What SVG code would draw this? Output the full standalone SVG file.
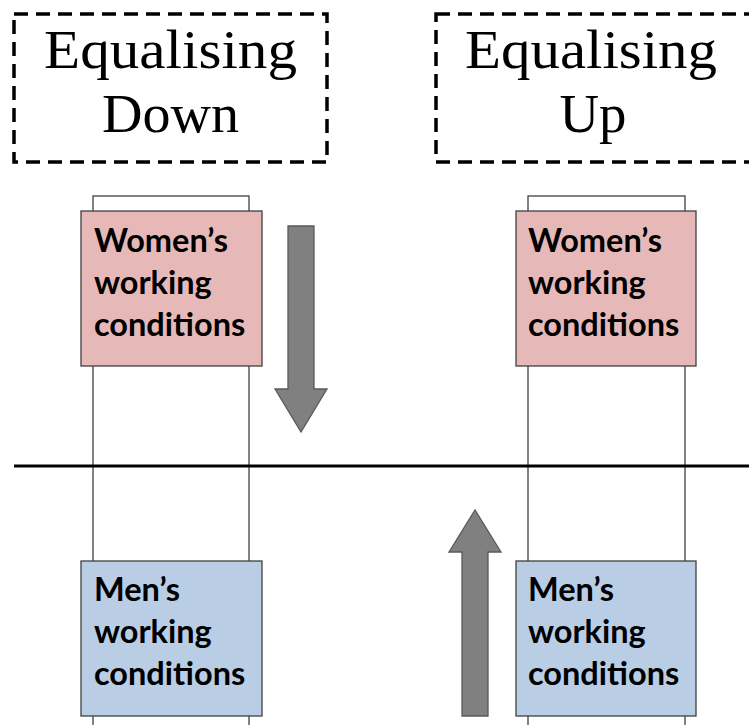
<svg xmlns="http://www.w3.org/2000/svg" width="749" height="725" viewBox="0 0 749 725">
<style>
.title{fill:none;stroke:#000;stroke-width:3.5;stroke-dasharray:14 8}
.ttext{font-family:"Liberation Serif","Times New Roman",serif;font-size:54px;fill:#000;text-anchor:middle}
.col{fill:#fff;stroke:#404040;stroke-width:1.3}
.women{fill:#E6B9B8;stroke:#404040;stroke-width:1.3}
.men{fill:#B9CDE5;stroke:#404040;stroke-width:1.3}
.btext{font-family:Lato,"Open Sans",sans-serif;font-weight:bold;font-size:32.5px;fill:#000}
.arrow{fill:#808080;stroke:#595959;stroke-width:1.3}
.axis{stroke:#000;stroke-width:3}
</style>
<rect width="749" height="725" fill="#fff"/>
<g id="title-down">
<rect class="title" x="14" y="14" width="313" height="148"/>
<text class="ttext" x="170.5" y="68" textLength="253" lengthAdjust="spacingAndGlyphs">Equalising</text>
<text class="ttext" x="170.5" y="132" textLength="137" lengthAdjust="spacingAndGlyphs">Down</text>
</g>
<g id="title-up">
<rect class="title" x="436" y="14" width="318" height="148"/>
<text class="ttext" x="591" y="68" textLength="252" lengthAdjust="spacingAndGlyphs">Equalising</text>
<text class="ttext" x="593" y="132" textLength="67" lengthAdjust="spacingAndGlyphs">Up</text>
</g>
<g id="column-left"><rect class="col" x="93" y="196" width="156" height="540"/></g>
<g id="column-right"><rect class="col" x="528" y="196" width="157" height="540"/></g>
<g id="connectors">
<line class="axis" x1="14" y1="466" x2="749" y2="466"/>
</g>
<g id="women-left">
<rect class="women" x="81" y="211" width="181" height="155"/>
<text class="btext" x="94" y="252">Women’s</text>
<text class="btext" x="94" y="294">working</text>
<text class="btext" x="94" y="336">conditions</text>
</g>
<g id="women-right">
<rect class="women" x="516" y="211" width="180" height="155"/>
<text class="btext" x="528" y="252">Women’s</text>
<text class="btext" x="528" y="294">working</text>
<text class="btext" x="528" y="336">conditions</text>
</g>
<g id="men-left">
<rect class="men" x="81" y="561" width="181" height="155"/>
<text class="btext" x="94" y="601">Men’s</text>
<text class="btext" x="94" y="643">working</text>
<text class="btext" x="94" y="685">conditions</text>
</g>
<g id="men-right">
<rect class="men" x="516" y="561" width="180" height="155"/>
<text class="btext" x="528" y="601">Men’s</text>
<text class="btext" x="528" y="643">working</text>
<text class="btext" x="528" y="685">conditions</text>
</g>
<g id="arrow-down">
<polygon class="arrow" points="288,226 314,226 314,389 327,389 301,432 275,389 288,389"/>
</g>
<g id="arrow-up">
<polygon class="arrow" points="462,716 488,716 488,552 501,552 475,510 449,552 462,552"/>
</g>
</svg>
